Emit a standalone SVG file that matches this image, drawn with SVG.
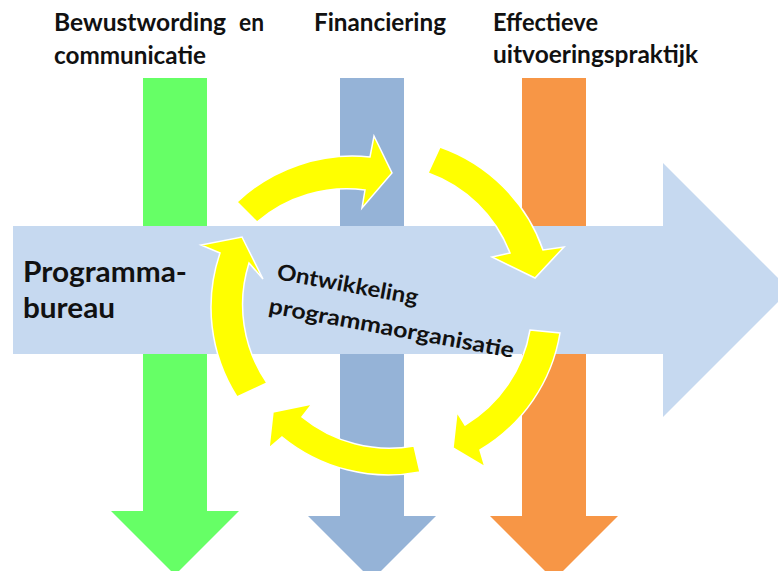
<svg xmlns="http://www.w3.org/2000/svg" width="778" height="571" viewBox="0 0 778 571">
<style>
.lbl{font-family:Lato,"Open Sans","Liberation Sans",sans-serif;font-weight:700;fill:#111}
.top{font-size:25px}
.big{font-size:29px}
.mid{font-size:22px}
.cyc{fill:#FFFF00;stroke:#FFFFFF;stroke-width:1.5;stroke-linejoin:miter}
</style>
<rect width="778" height="571" fill="#FFFFFF"/>
<g id="connectors">
<polygon id="arrow-green" fill="#66FF66" points="143,78 207,78 207,511 239,511 175,575 111,511 143,511"/>
<polygon id="arrow-blue" fill="#95B3D7" points="340,78 404,78 404,516 436,516 372,580 308,516 340,516"/>
<polygon id="arrow-orange" fill="#F79646" points="522,78 586,78 586,516 618,516 554,580 490,516 522,516"/>
<polygon id="arrow-main" fill="#C6D9F0" points="13,226 663,226 663,163 790,290 663,417 663,354 13,354"/>
<path class="cyc" d="M257,222 L237,202 A168,168 0 0 1 370,157 L374,136 L392,173 L362,208 L365,190 A138,138 0 0 0 257,222 Z"/>
<path class="cyc" d="M428,173 L440,147 A168,168 0 0 1 543,250 L564,247 L535,278 L492,257 L510,253 A138,138 0 0 0 428,173 Z"/>
<path class="cyc" d="M530,330 L560,333 A168,168 0 0 1 480,450 L485,467 L453,448 L457,412 L465,425 A138,138 0 0 0 530,330 Z"/>
<path class="cyc" d="M414,446 L420,472 A168,168 0 0 1 282,437 L269,448 L273,412 L312,404 L302,417 A138,138 0 0 0 414,446 Z"/>
<path class="cyc" d="M267,383 L237,397 A168,168 0 0 1 220,253 L201,245 L242,237 L263,279 L249,263 A138,138 0 0 0 267,383 Z"/>
</g>
<g id="node-bewustwording">
<text class="lbl top" x="54" y="31" textLength="172" lengthAdjust="spacingAndGlyphs">Bewustwording</text>
<text class="lbl top" x="239" y="31" textLength="25" lengthAdjust="spacingAndGlyphs">en</text>
<text class="lbl top" x="54" y="64" textLength="152" lengthAdjust="spacingAndGlyphs">communicatie</text>
</g>
<g id="node-financiering">
<text class="lbl top" x="314" y="31" textLength="132" lengthAdjust="spacingAndGlyphs">Financiering</text>
</g>
<g id="node-effectieve">
<text class="lbl top" x="493" y="31" textLength="105" lengthAdjust="spacingAndGlyphs">Effectieve</text>
<text class="lbl top" x="493" y="63" textLength="205" lengthAdjust="spacingAndGlyphs">uitvoeringspraktijk</text>
</g>
<g id="node-programmabureau">
<text class="lbl big" x="23" y="282" textLength="164" lengthAdjust="spacingAndGlyphs">Programma-</text>
<text class="lbl big" x="23" y="318" textLength="92" lengthAdjust="spacingAndGlyphs">bureau</text>
</g>
<g id="node-ontwikkeling" transform="translate(276,279) rotate(10.4)">
<text class="lbl mid" x="0" y="0" textLength="143" lengthAdjust="spacingAndGlyphs">Ontwikkeling</text>
<text class="lbl mid" x="-2" y="35" textLength="249" lengthAdjust="spacingAndGlyphs">programmaorganisatie</text>
</g>
</svg>
